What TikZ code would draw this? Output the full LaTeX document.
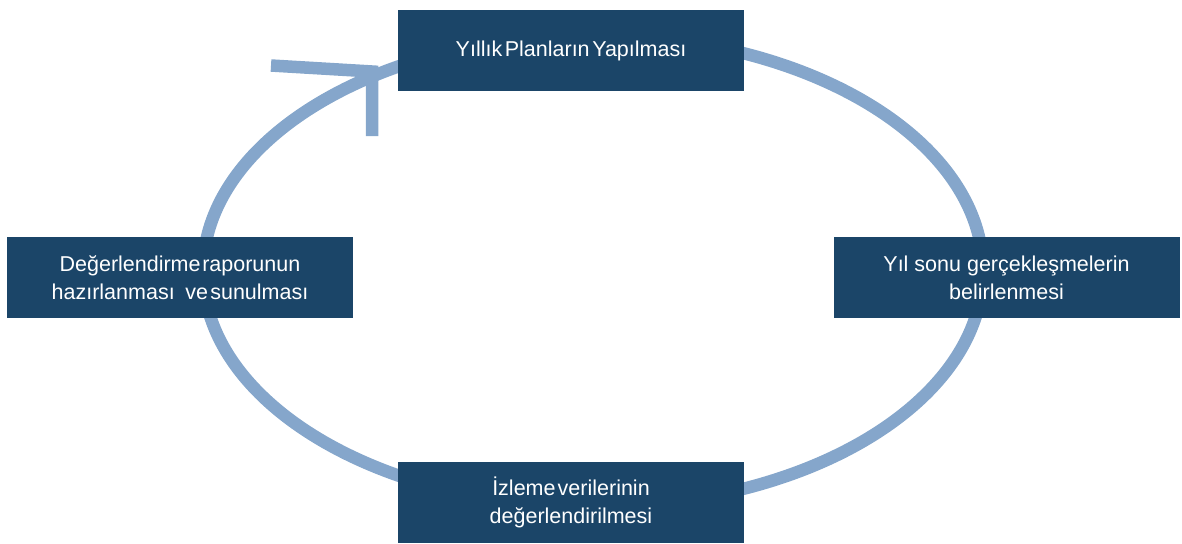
\documentclass[tikz,border=0pt]{standalone}
\usepackage{fontspec}
\setmainfont{Liberation Sans}
\definecolor{boxblue}{RGB}{27,69,104}
\definecolor{ringblue}{RGB}{133,166,203}
\begin{document}
\begin{tikzpicture}[x=1pt,y=-1pt,
  stepbox/.style={fill=boxblue, text=white, minimum width=346pt, minimum height=81pt,
    inner sep=0pt, align=center, font=\fontsize{21.5}{28}\selectfont},
  ring/.style={draw=ringblue, line width=12.5pt}]
\useasboundingbox (0,0) rectangle (1182,543);
\draw[ring] (593,271) ellipse [x radius=390pt, y radius=236pt];
\coordinate (a1) at (271,65.5);
\coordinate (tip) at (372,71.5);
\coordinate (a2) at (372,136);
\draw[ring, line join=miter] (a1) -- (tip) -- (a2);
\node[stepbox] (top) at (571,50.5) {Yıllık\hspace{0.12em}Planların\hspace{0.12em}Yapılması};
\node[stepbox] (right) at (1006.5,277.5) {\fontsize{21.5}{34}\selectfont Yıl sonu gerçekleşmelerin\\belirlenmesi};
\node[stepbox] (left) at (180,277.5) {Değerlendirme\hspace{0.08em}raporunun\\hazırlanması\hspace{0.5em}ve\hspace{0.1em}sunulması};
\node[stepbox] (bottom) at (571,502.5) {\fontsize{21.5}{26}\selectfont İzleme\hspace{0.1em}verilerinin\\değerlendirilmesi};
\end{tikzpicture}
\end{document}
